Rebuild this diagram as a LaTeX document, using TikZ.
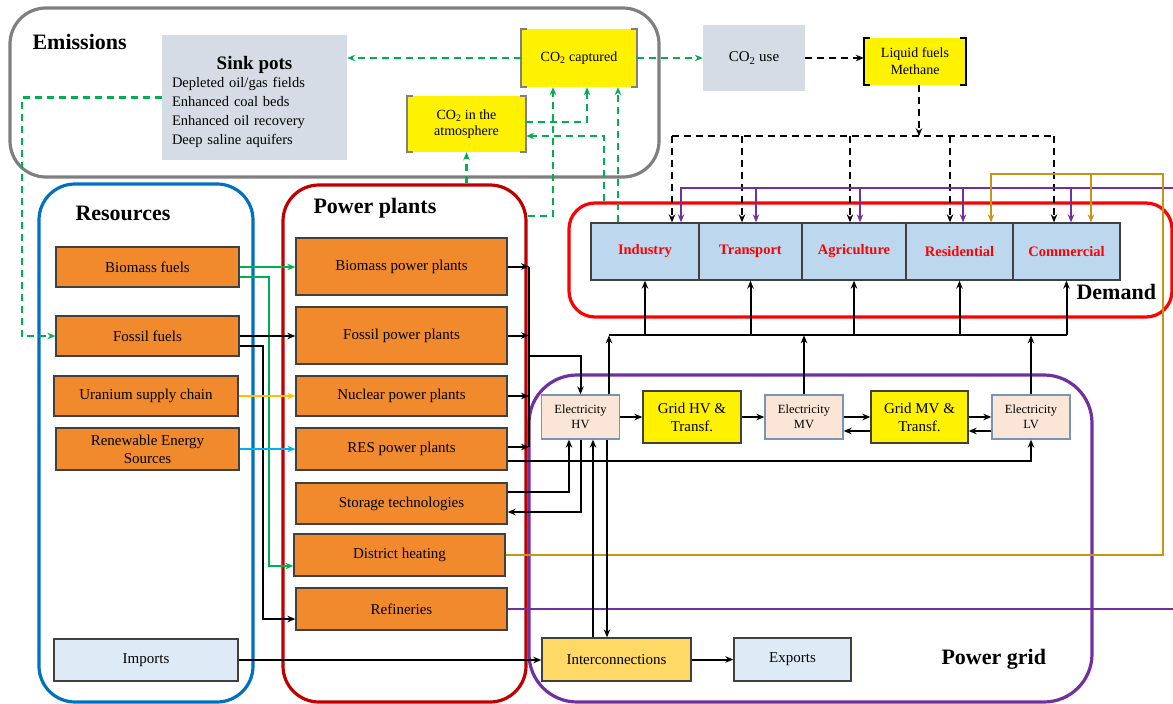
\documentclass[tikz,border=0pt]{standalone}
\usepackage{fontspec}
\setmainfont{Liberation Serif}
\usetikzlibrary{arrows.meta}
\definecolor{boxline}{RGB}{64,64,64}
\definecolor{orangebox}{RGB}{240,138,44}
\definecolor{demblue}{RGB}{189,215,238}
\definecolor{sinkgray}{RGB}{214,220,229}
\definecolor{paleblue}{RGB}{222,235,247}
\definecolor{elecpeach}{RGB}{251,229,214}
\definecolor{elecline}{RGB}{120,150,180}
\definecolor{intergold}{RGB}{255,217,102}
\definecolor{emisgray}{RGB}{127,127,127}
\definecolor{resblue}{RGB}{0,112,192}
\definecolor{ppred}{RGB}{192,0,0}
\definecolor{demred}{RGB}{255,0,0}
\definecolor{gridpurple}{RGB}{112,48,160}
\definecolor{co2green}{RGB}{0,176,80}
\definecolor{rescyan}{RGB}{0,176,240}
\definecolor{uragold}{RGB}{255,192,0}
\definecolor{heatgold}{RGB}{196,150,20}
\begin{document}
\begin{tikzpicture}[x=1pt,y=-1pt,font=\fontsize{15}{17}\selectfont,
  >={Stealth[length=8pt,width=6.5pt]},
  box/.style={draw=boxline,line width=1.3pt,inner sep=1pt,align=center},
  obox/.style={box,fill=orangebox,minimum width=211,minimum height=42},
  dbox/.style={box,fill=demblue,text=demred,minimum height=57,font=\fontsize{14.5}{16}\selectfont\bfseries},
  ebox/.style={draw=elecline,line width=1.3pt,fill=elecpeach,inner sep=1pt,align=center,
    minimum width=78,minimum height=44,font=\fontsize{12.5}{15}\selectfont},
  gbox/.style={box,fill=yellow,minimum width=98,minimum height=52,font=\fontsize{15}{18}\selectfont},
  ybox/.style={fill=yellow,inner sep=1pt,align=center,font=\fontsize{14}{16}\selectfont},
  pbox/.style={box,fill=paleblue,minimum height=43},
  group/.style={draw=#1,line width=3.2pt,rounded corners=36pt,inner sep=0pt},
  title/.style={anchor=west,font=\fontsize{22}{24}\selectfont\bfseries},
  wire/.style={line width=2pt},
  flow/.style={wire,->},
  gdash/.style={draw=co2green,line width=2.2pt,dash pattern=on 7pt off 5pt,->},
  kdash/.style={draw=black,line width=2.2pt,dash pattern=on 7pt off 5pt},
  pline/.style={draw=gridpurple,line width=2.2pt},
  hline/.style={draw=heatgold,line width=2.2pt},
  brk/.style={line width=1.8pt}]
\useasboundingbox (0,0) rectangle (1173,704);
\node[group=emisgray,minimum width=649,minimum height=169] (emis) at (334.5,92.5) {};
\node[group=resblue,minimum width=214,minimum height=518] (resg) at (146,443) {};
\node[group=ppred,minimum width=243,minimum height=517] (ppg) at (404.5,443.5) {};
\node[group=gridpurple,minimum width=563,minimum height=327,rounded corners=48pt] (gridg) at (810.5,538.5) {};
\node[group=demred,minimum width=603,minimum height=114,rounded corners=26pt] (demg) at (870.5,260) {};
\node[title] (emlab) at (29,42) {Emissions};
\node[title] (reslab) at (72,213) {Resources};
\node[title] (pplab) at (310,208) {Power plants};
\node[title] (demlab) at (1073,292) {Demand};
\node[title] (gridlab) at (938,659) {Power grid};
\node[fill=sinkgray,minimum width=185,minimum height=125] (sink) at (254.5,97.5) {};
\node[anchor=north,inner sep=0pt,text width=165,align=left,font=\fontsize{14.5}{18.8}\selectfont] (sinktext)
  at ([yshift=-21]sink.north) {\makebox[165pt]{\fontsize{19}{20}\selectfont\bfseries Sink pots}\\Depleted oil/gas fields\\
   Enhanced coal beds\\Enhanced oil recovery\\Deep saline aquifers};
\node[ybox,minimum width=116,minimum height=58] (cap) at (579,58) {CO\textsubscript{2} captured};
\node[ybox,minimum width=119,minimum height=56] (atm) at (466.5,124) {CO\textsubscript{2} in the\\atmosphere};
\node[fill=sinkgray,minimum width=102,minimum height=66] (use) at (754,58) {CO\textsubscript{2} use};
\node[ybox,minimum width=102,minimum height=47,font=\fontsize{14}{17}\selectfont] (liq) at (915,61.5) {Liquid fuels\\Methane};
\foreach \n/\c in {cap/emisgray,atm/emisgray,liq/black} {
  \draw[brk,\c] ([xshift=6]\n.north west) -| (\n.south west) -- ++(6,0);
  \draw[brk,\c] ([xshift=-6]\n.north east) -| (\n.south east) -- ++(-6,0);
}
\foreach \n/\y/\t in {bio/267/Biomass fuels,fos/336/Fossil fuels} \node[obox,minimum width=183,minimum height=40] (\n) at (147.5,\y) {\t};
\node[obox,minimum width=184,minimum height=40] (ura) at (146,396) {Uranium supply chain};
\node[obox,minimum width=183,font=\fontsize{15}{18}\selectfont] (ren) at (147.5,449) {Renewable Energy\\Sources};
\node[pbox,minimum width=184,minimum height=42] (imp) at (146,660) {Imports};
\foreach \n/\y/\h/\t in {biopp/266.5/57/Biomass power plants,fospp/335.5/57/Fossil power plants,
  nucpp/396/40/Nuclear power plants,respp/449/42/RES power plants,stor/503.5/41/Storage technologies,
  ref/609/42/Refineries} \node[obox,minimum height=\h] (\n) at (401.5,\y) {\t};
\node[obox] (dh) at (399.5,555) {District heating};
\foreach \n/\x/\w/\t in {ind/645/108/Industry,tra/750.5/103/Transport,agr/854/104/Agriculture,
  res/959.5/107/Residential,com/1066.5/107/Commercial} \node[dbox,minimum width=\w] (\n) at (\x,251.5) {\t};
\foreach \n/\x/\t in {ehv/580.5/HV,emv/804/MV,elv/1031/LV} \node[ebox] (\n) at (\x,417) {Electricity\\\t};
\node[gbox] (ghv) at (692,417) {Grid HV \&\\Transf.};
\node[gbox,minimum width=97] (gmv) at (919.5,417) {Grid MV \&\\Transf.};
\node[box,fill=intergold,minimum width=149,minimum height=43] (inter) at (616.5,659.5) {Interconnections};
\node[pbox,minimum width=117] (exp) at (792.5,659.5) {Exports};
\draw[gdash] (cap.west) -- (cap.west -| sink.east);
\draw[gdash] (cap.east) -- (cap.east -| use.west);
\draw[kdash,->] (use.east) -- (use.east -| liq.west);
\draw[gdash] (sink.west) -- ++(-140,0) |- (fos.west);
\draw[gdash] (atm.south |- ppg.north) -- (atm.south);
\draw[gdash] ([yshift=227.5]ppg.east) -| ([xshift=-26]cap.south);
\draw[gdash] ([yshift=2]atm.east) -| ([xshift=8]cap.south);
\draw[gdash] ([xshift=-27]ind.north) -- ([xshift=-27]ind.north |- cap.south);
\draw[gdash] ([xshift=-266.5]demg.north) |- ([yshift=-12]atm.east);
\draw[kdash,->] ([xshift=4]liq.south) -- ++(0,51) coordinate (fbus);
\draw[kdash] ([xshift=27]ind.north |- fbus) -- ([xshift=-12.5]com.north |- fbus);
\foreach \n/\s in {ind/27,tra/-8.5,agr/-4,res/-9.5,com/-12.5}
  \draw[kdash,->] ([xshift=\s]\n.north |- fbus) -- ([xshift=\s]\n.north);
\coordinate (ptop) at (1173,188);
\coordinate (pbot) at (1173,609);
\draw[pline] (ref.east) -- (pbot);
\draw[pline,->] (ptop) -| ([xshift=36]ind.north);
\foreach \n/\s in {tra/5.5,agr/6,res/3.5,com/4.5}
  \draw[pline,->] ([xshift=\s]\n.north |- ptop) -- ([xshift=\s]\n.north);
\coordinate (gtop) at (1163,174);
\draw[hline,->] (dh.east) -| (gtop) -| ([xshift=31.5]res.north);
\draw[hline,->] ([xshift=24.5]com.north |- gtop) -- ([xshift=24.5]com.north);
\draw[flow,co2green] (bio.east) -- (bio.east -| biopp.west);
\draw[flow,co2green] ([yshift=-10]bio.east) -- ++(29,0) |- ([yshift=-11]dh.west);
\draw[flow] (fos.east) -- (fos.east -| fospp.west);
\draw[flow] ([yshift=-10]fos.east) -- ++(23,0) |- ([yshift=-10]ref.west);
\draw[flow,uragold] (ura.east) -- (ura.east -| nucpp.west);
\draw[flow,rescyan] (ren.east) -- (ren.east -| respp.west);
\draw[flow] (imp.east) -- (imp.east -| inter.west);
\coordinate (bus) at (529,356);
\foreach \n/\s in {biopp/0,fospp/0,nucpp/0,respp/2}
  \draw[flow] ([yshift=\s]\n.east) -- ([yshift=\s]\n.east -| bus);
\draw[wire] (biopp.east -| bus) -- ([yshift=2]respp.east -| bus);
\draw[flow] (bus) -| (ehv.north);
\draw[flow] ([yshift=-12]respp.east) -| (elv.south);
\draw[flow] ([yshift=11.5]stor.east) -| ([xshift=-11.5]ehv.south);
\draw[flow] (ehv.south) |- ([yshift=-8.5]stor.east);
\draw[flow] ([xshift=12.5]ehv.south |- inter.north) -- ([xshift=12.5]ehv.south);
\draw[flow] ([xshift=26.5]ehv.south) -- ([xshift=26.5]ehv.south |- inter.north);
\draw[flow] (inter.east) -- (exp.west);
\draw[flow] (ehv.east) -- (ghv.west);
\draw[flow] (ghv.east) -- (emv.west);
\draw[flow] (emv.east) -- (gmv.west);
\draw[flow] ([yshift=-14]gmv.west) -- ([yshift=-14]emv.east);
\draw[flow] (gmv.east) -- (elv.west);
\draw[flow] ([yshift=-14]elv.west) -- ([yshift=-14]gmv.east);
\draw[flow] ([xshift=28.5]ehv.north) -- ++(0,-59) coordinate (dbus);
\draw[flow] (emv.north) -- (emv.north |- dbus);
\draw[flow] (elv.north) -- (elv.north |- dbus);
\draw[wire] (dbus) -- (com.south |- dbus);
\foreach \n in {ind,tra,agr,res,com} \draw[flow] (\n.south |- dbus) -- (\n.south);
\end{tikzpicture}
\end{document}
